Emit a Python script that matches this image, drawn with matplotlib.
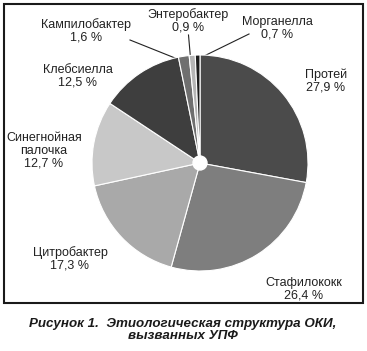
import matplotlib
matplotlib.use("Agg")
import matplotlib.pyplot as plt
from matplotlib.patches import Rectangle, Circle

labels = ["Протей", "Стафилококк", "Цитробактер", "Синегнойная\nпалочка",
          "Клебсиелла", "Кампилобактер", "Энтеробактер", "Морганелла"]
values = [27.9, 26.4, 17.3, 12.7, 12.5, 1.6, 0.9, 0.7]
value_text = ["27,9 %", "26,4 %", "17,3 %", "12,7 %", "12,5 %", "1,6 %", "0,9 %", "0,7 %"]
colors = ["#4b4b4b", "#7e7e7e", "#a9a9a9", "#c8c8c8", "#3e3e3e", "#6f6f6f", "#b5b5b5", "#1c1c1c"]

plt.rcParams['font.family'] = ['Liberation Sans', 'DejaVu Sans']

W, H = 367, 351
fig = plt.figure(figsize=(W / 100, H / 100), dpi=100)

# overlay axes in pixel coordinates
ov = fig.add_axes([0, 0, 1, 1])
ov.set_xlim(0, W)
ov.set_ylim(H, 0)
ov.axis('off')
ov.add_patch(Rectangle((3.5, 3.5), 359, 299.5, fill=False, ec='#1a1a1a', lw=1.5))

cx, cy, r = 200, 163, 108
pax = fig.add_axes([(cx - r) / W, (H - cy - r) / H, 2 * r / W, 2 * r / H])
pax.pie(values, colors=colors, startangle=90, counterclock=False,
        wedgeprops=dict(edgecolor='white', linewidth=0.8))
pax.set_xlim(-1, 1)
pax.set_ylim(-1, 1)
pax.set_aspect('equal')
pax.axis('off')
pax.add_patch(Circle((0, 0), 7 / r, color='white', zorder=5))

pos = {
    0: (326, 81),
    1: (304, 289),
    2: (70, 259),
    3: (44, 151),
    4: (78, 76),
    5: (86, 31),
    6: (188, 21),
    7: (277, 28),
}
for i, (x, y) in pos.items():
    ov.text(x, y, labels[i] + "\n" + value_text[i], ha='center', va='center',
            fontsize=9, color='#222222', linespacing=1.1)

# leader lines
ov.plot([130, 180], [40, 60], color='#222222', lw=0.8)
ov.plot([188.5, 190.5], [35, 58], color='#222222', lw=0.8)
ov.plot([249, 200], [34, 58], color='#222222', lw=0.8)

ov.text(183, 330, "Рисунок 1.  Этиологическая структура ОКИ,\nвызванных УПФ",
        ha='center', va='center', fontsize=9.6, fontweight='bold', fontstyle='italic',
        color='#1a1a1a', linespacing=1.1)

fig.savefig("out.png", dpi=100)
